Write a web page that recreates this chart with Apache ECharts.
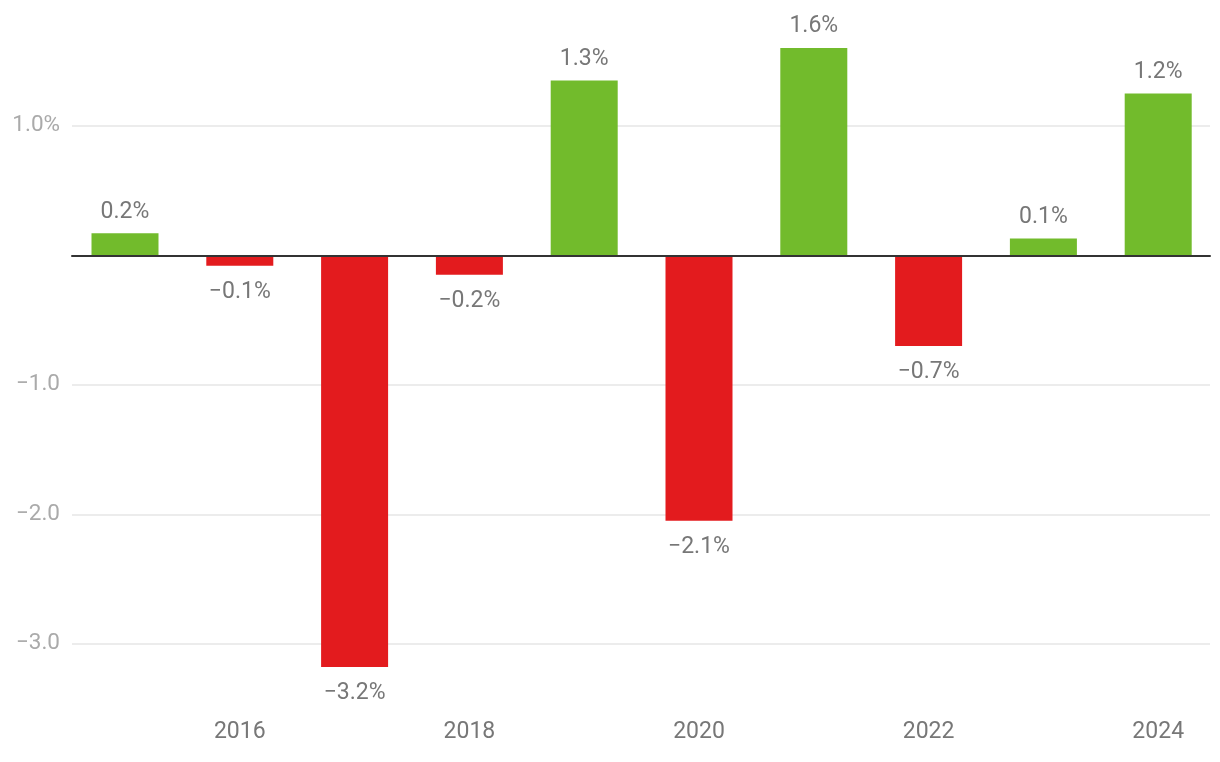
<!DOCTYPE html>
<html>
<head>
<meta charset="utf-8">
<script src="https://cdn.jsdelivr.net/npm/echarts@6/dist/echarts.min.js"></script>
<style>html,body{margin:0;padding:0;background:#fff}#c{width:1220px;height:762px}</style>
</head>
<body>
<div id="c"></div>
<script>
const years = ['2015','2016','2017','2018','2019','2020','2021','2022','2023','2024'];
const values = [0.17, -0.08, -3.18, -0.15, 1.35, -2.05, 1.60, -0.70, 0.13, 1.25];
const valueLabels = ['0.2%','\u22120.1%','\u22123.2%','\u22120.2%','1.3%','\u22122.1%','1.6%','\u22120.7%','0.1%','1.2%'];
const yTickLabels = {'1': '1.0%', '-1': '\u22121.0', '-2': '\u22122.0', '-3': '\u22123.0'};

const GREEN = '#72bb2c', RED = '#e31b1e';
const chart = echarts.init(document.getElementById('c'), null, {renderer: 'canvas'});
const font = 'Roboto';
chart.setOption({
  animation: false,
  textStyle: {fontFamily: font},
  grid: [
    {left: 67.6, right: 4.4, top: 22.2, bottom: 53.5},
    {left: 72, right: 10, top: 125.8, bottom: 118.2}
  ],
  xAxis: [
    {type: 'category', gridIndex: 0, data: years,
     axisLine: {show: false}, axisTick: {show: false}, splitLine: {show: false},
     axisLabel: {interval: (i) => i % 2 === 1, color: '#777', fontSize: 23, fontFamily: font, margin: 12}},
    {type: 'category', gridIndex: 1, data: years, z: 5,
     axisLine: {show: true, onZero: true, lineStyle: {color: '#333', width: 2}},
     axisTick: {show: false}, axisLabel: {show: false}, splitLine: {show: false}}
  ],
  yAxis: [
    {type: 'value', gridIndex: 0, min: -3.5, max: 1.8,
     axisLine: {show: false}, axisTick: {show: false}, axisLabel: {show: false}, splitLine: {show: false}},
    {type: 'value', gridIndex: 1, min: -3, max: 1, interval: 1,
     axisLine: {show: false}, axisTick: {show: false},
     splitLine: {lineStyle: {color: '#e6e6e6', width: 1.5}},
     axisLabel: {color: '#aaa', fontSize: 22.5, fontFamily: font, margin: 12,
       formatter: (v) => yTickLabels[String(Math.round(v))] || ''}}
  ],
  series: [{
    type: 'bar', xAxisIndex: 0, yAxisIndex: 0, barWidth: 67,
    data: values.map((v, i) => ({
      value: v,
      itemStyle: {color: v >= 0 ? GREEN : RED},
      label: {show: true, position: v >= 0 ? 'top' : 'bottom', distance: v >= 0 ? 10 : 15,
        formatter: valueLabels[i], color: '#777', fontSize: 23, fontFamily: font}
    }))
  }]
});
</script>
</body>
</html>
